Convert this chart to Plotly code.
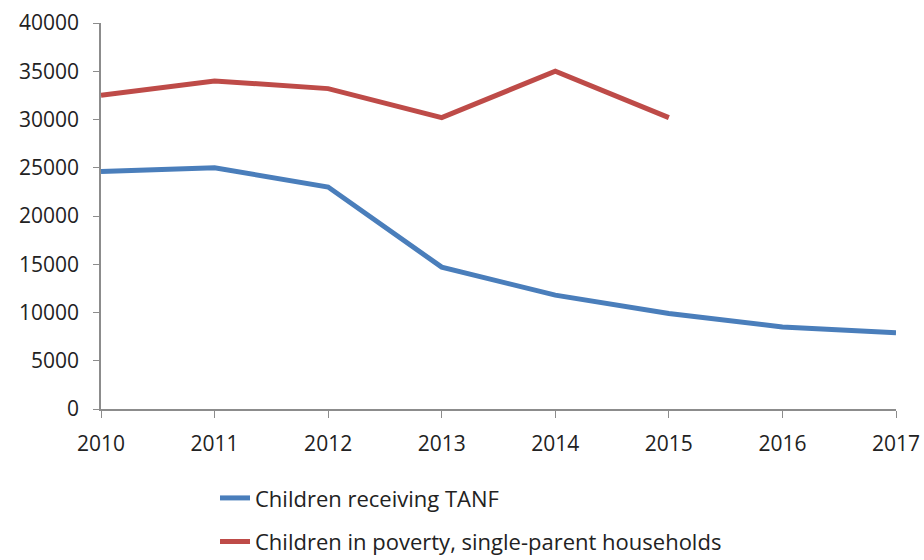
import plotly.graph_objects as go

years = ["2010", "2011", "2012", "2013", "2014", "2015", "2016", "2017"]
tanf = [24600, 25000, 23000, 14700, 11800, 9900, 8500, 7900]
poverty_years = ["2010", "2011", "2012", "2013", "2014", "2015"]
poverty = [32500, 34000, 33200, 30200, 35000, 30200]

fig = go.Figure()
fig.add_trace(go.Scatter(x=years, y=tanf, mode="lines", name="Children receiving TANF",
                         line=dict(color="#4A7EBB", width=5), legendgroup="a"))
fig.add_trace(go.Scatter(x=poverty_years, y=poverty, mode="lines",
                         name="Children in poverty, single-parent households",
                         line=dict(color="#BE4B48", width=5), legendgroup="b"))

fig.update_layout(
    width=924, height=560,
    margin=dict(l=101, r=28, t=23, b=151, autoexpand=False),
    plot_bgcolor="white", paper_bgcolor="white",
    font=dict(family="Open Sans", size=21, color="#222222"),
    showlegend=True,
    legend=dict(xref="container", yref="container", x=0.2327, xanchor="left",
                y=0.148, yanchor="top",
                orientation="v", tracegroupgap=12, font=dict(size=22),
                itemwidth=30),
)
fig.update_xaxes(type="category", categoryorder="array", categoryarray=years,
                 range=[0, 7], showgrid=False, showline=True, linecolor="#8c8c8c",
                 linewidth=1.5, ticks="outside", ticklen=7, tickcolor="#8c8c8c",
                 ticklabelstandoff=8, automargin=False)
fig.update_yaxes(range=[0, 40000], dtick=5000, tickformat="d", showgrid=False,
                 showline=True, linecolor="#8c8c8c", linewidth=1.5,
                 ticks="outside", ticklen=6, tickcolor="#8c8c8c",
                 ticklabelstandoff=10, zeroline=False, automargin=False)

fig.write_html("out.html")
